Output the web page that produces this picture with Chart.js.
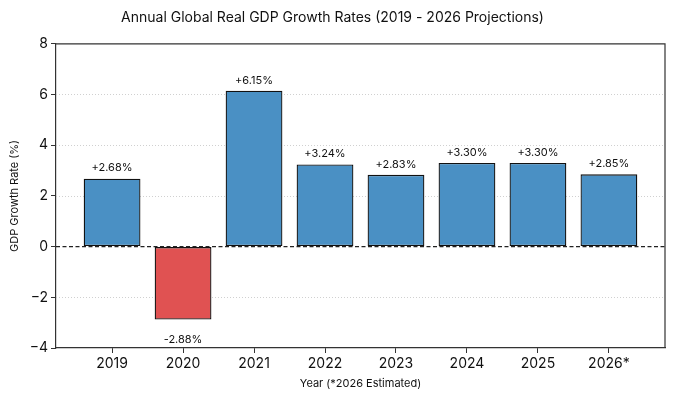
<!DOCTYPE html>
<html>
<head>
<meta charset="utf-8">
<script src="https://cdn.jsdelivr.net/npm/chart.js@4"></script>
<style>
  html, body { margin: 0; padding: 0; background: #fff; }
  #wrap { width: 680px; height: 402px; }
</style>
</head>
<body>
<div id="wrap"><canvas id="chart" width="680" height="402"></canvas></div>
<script>
// data
const years = ['2019', '2020', '2021', '2022', '2023', '2024', '2025', '2026*'];
const growth = [2.68, -2.88, 6.15, 3.24, 2.83, 3.30, 3.30, 2.85];
const yTicks = [-4, -2, 0, 2, 4, 6, 8];

const FONT = 'Inter, "Noto Sans", sans-serif';
const BLUE = '#4a90c4';
const RED = '#e05252';

// extra drawing: dotted grid, frame, zero line, value labels
const decor = {
    id: 'decor',
    beforeDatasetsDraw(chart) {
        const {ctx, chartArea: a, scales: {y}} = chart;
        ctx.save();
        ctx.strokeStyle = '#c4c4c4';
        ctx.lineWidth = 0.8;
        ctx.setLineDash([1, 2]);
        yTicks.forEach(v => {
            if (v === 0 || v === yTicks[0] || v === yTicks[yTicks.length - 1]) return;
            const py = Math.round(y.getPixelForValue(v)) + 0.5;
            ctx.beginPath();
            ctx.moveTo(a.left, py);
            ctx.lineTo(a.right, py);
            ctx.stroke();
        });
        ctx.restore();
    },
    afterDatasetsDraw(chart) {
        const {ctx, chartArea: a, scales: {y}} = chart;
        ctx.save();
        // zero line
        const zy = y.getPixelForValue(0);
        ctx.strokeStyle = '#222';
        ctx.lineWidth = 1.1;
        ctx.setLineDash([4, 2.5]);
        ctx.beginPath();
        ctx.moveTo(a.left, zy);
        ctx.lineTo(a.right, zy);
        ctx.stroke();
        ctx.setLineDash([]);
        // top and right spines
        ctx.strokeStyle = '#333';
        ctx.lineWidth = 1.2;
        ctx.beginPath();
        ctx.moveTo(a.left, a.top);
        ctx.lineTo(a.right, a.top);
        ctx.lineTo(a.right, a.bottom);
        ctx.stroke();
        // value labels
        ctx.fillStyle = '#111';
        ctx.font = '11px ' + FONT;
        ctx.textAlign = 'center';
        chart.getDatasetMeta(0).data.forEach((bar, i) => {
            const v = growth[i];
            const txt = (v >= 0 ? '+' : '') + v.toFixed(2) + '%';
            if (v >= 0) {
                ctx.textBaseline = 'bottom';
                ctx.fillText(txt, bar.x, bar.y - 5);
            } else {
                ctx.textBaseline = 'top';
                ctx.fillText(txt, bar.x, bar.y + 15);
            }
        });
        ctx.restore();
    }
};

new Chart(document.getElementById('chart'), {
    type: 'bar',
    data: {
        datasets: [{
            data: growth.map((v, i) => ({x: i, y: v})),
            backgroundColor: growth.map(v => v < 0 ? RED : BLUE),
            borderColor: '#111',
            borderWidth: 1.3,
            borderSkipped: false,
            categoryPercentage: 0.8,
            barPercentage: 1.0
        }]
    },
    options: {
        responsive: false,
        animation: false,
        devicePixelRatio: 1,
        layout: {padding: {left: 0, right: 15, top: 0, bottom: 0}},
        plugins: {
            legend: {display: false},
            tooltip: {enabled: false},
            title: {
                display: true,
                text: 'Annual Global Real GDP Growth Rates (2019 - 2026 Projections)',
                color: '#111',
                font: {family: FONT, size: 14, weight: 'normal'},
                padding: {top: 9, bottom: 18}
            }
        },
        scales: {
            x: {
                type: 'linear',
                offset: false,
                min: -0.79,
                max: 7.79,
                afterBuildTicks: s => { s.ticks = years.map((_, i) => ({value: i})); },
                afterFit: s => { s.height = 54; },
                ticks: {
                    color: '#111',
                    font: {family: FONT, size: 14},
                    padding: 2,
                    maxRotation: 0,
                    autoSkip: false,
                    callback: v => years[v]
                },
                grid: {offset: false, drawOnChartArea: false, drawTicks: true, tickLength: 5, color: '#333'},
                border: {display: true, color: '#333', width: 1.2},
                title: {
                    display: true,
                    text: 'Year (*2026 Estimated)',
                    color: '#111',
                    font: {family: FONT, size: 11},
                    padding: {top: 0, bottom: 12}
                }
            },
            y: {
                min: -4,
                max: 8,
                afterBuildTicks: s => { s.ticks = yTicks.map(v => ({value: v})); },
                afterFit: s => { s.width = 56; },
                ticks: {
                    color: '#111',
                    font: {family: FONT, size: 14},
                    padding: 3,
                    callback: v => v < 0 ? '\u2212' + Math.abs(v) : String(v)
                },
                grid: {drawOnChartArea: false, drawTicks: true, tickLength: 5, color: '#333'},
                border: {display: true, color: '#333', width: 1.2},
                title: {
                    display: true,
                    text: 'GDP Growth Rate (%)',
                    color: '#111',
                    font: {family: FONT, size: 11},
                    padding: {top: 8, bottom: 0}
                }
            }
        }
    },
    plugins: [decor]
});
</script>
</body>
</html>
